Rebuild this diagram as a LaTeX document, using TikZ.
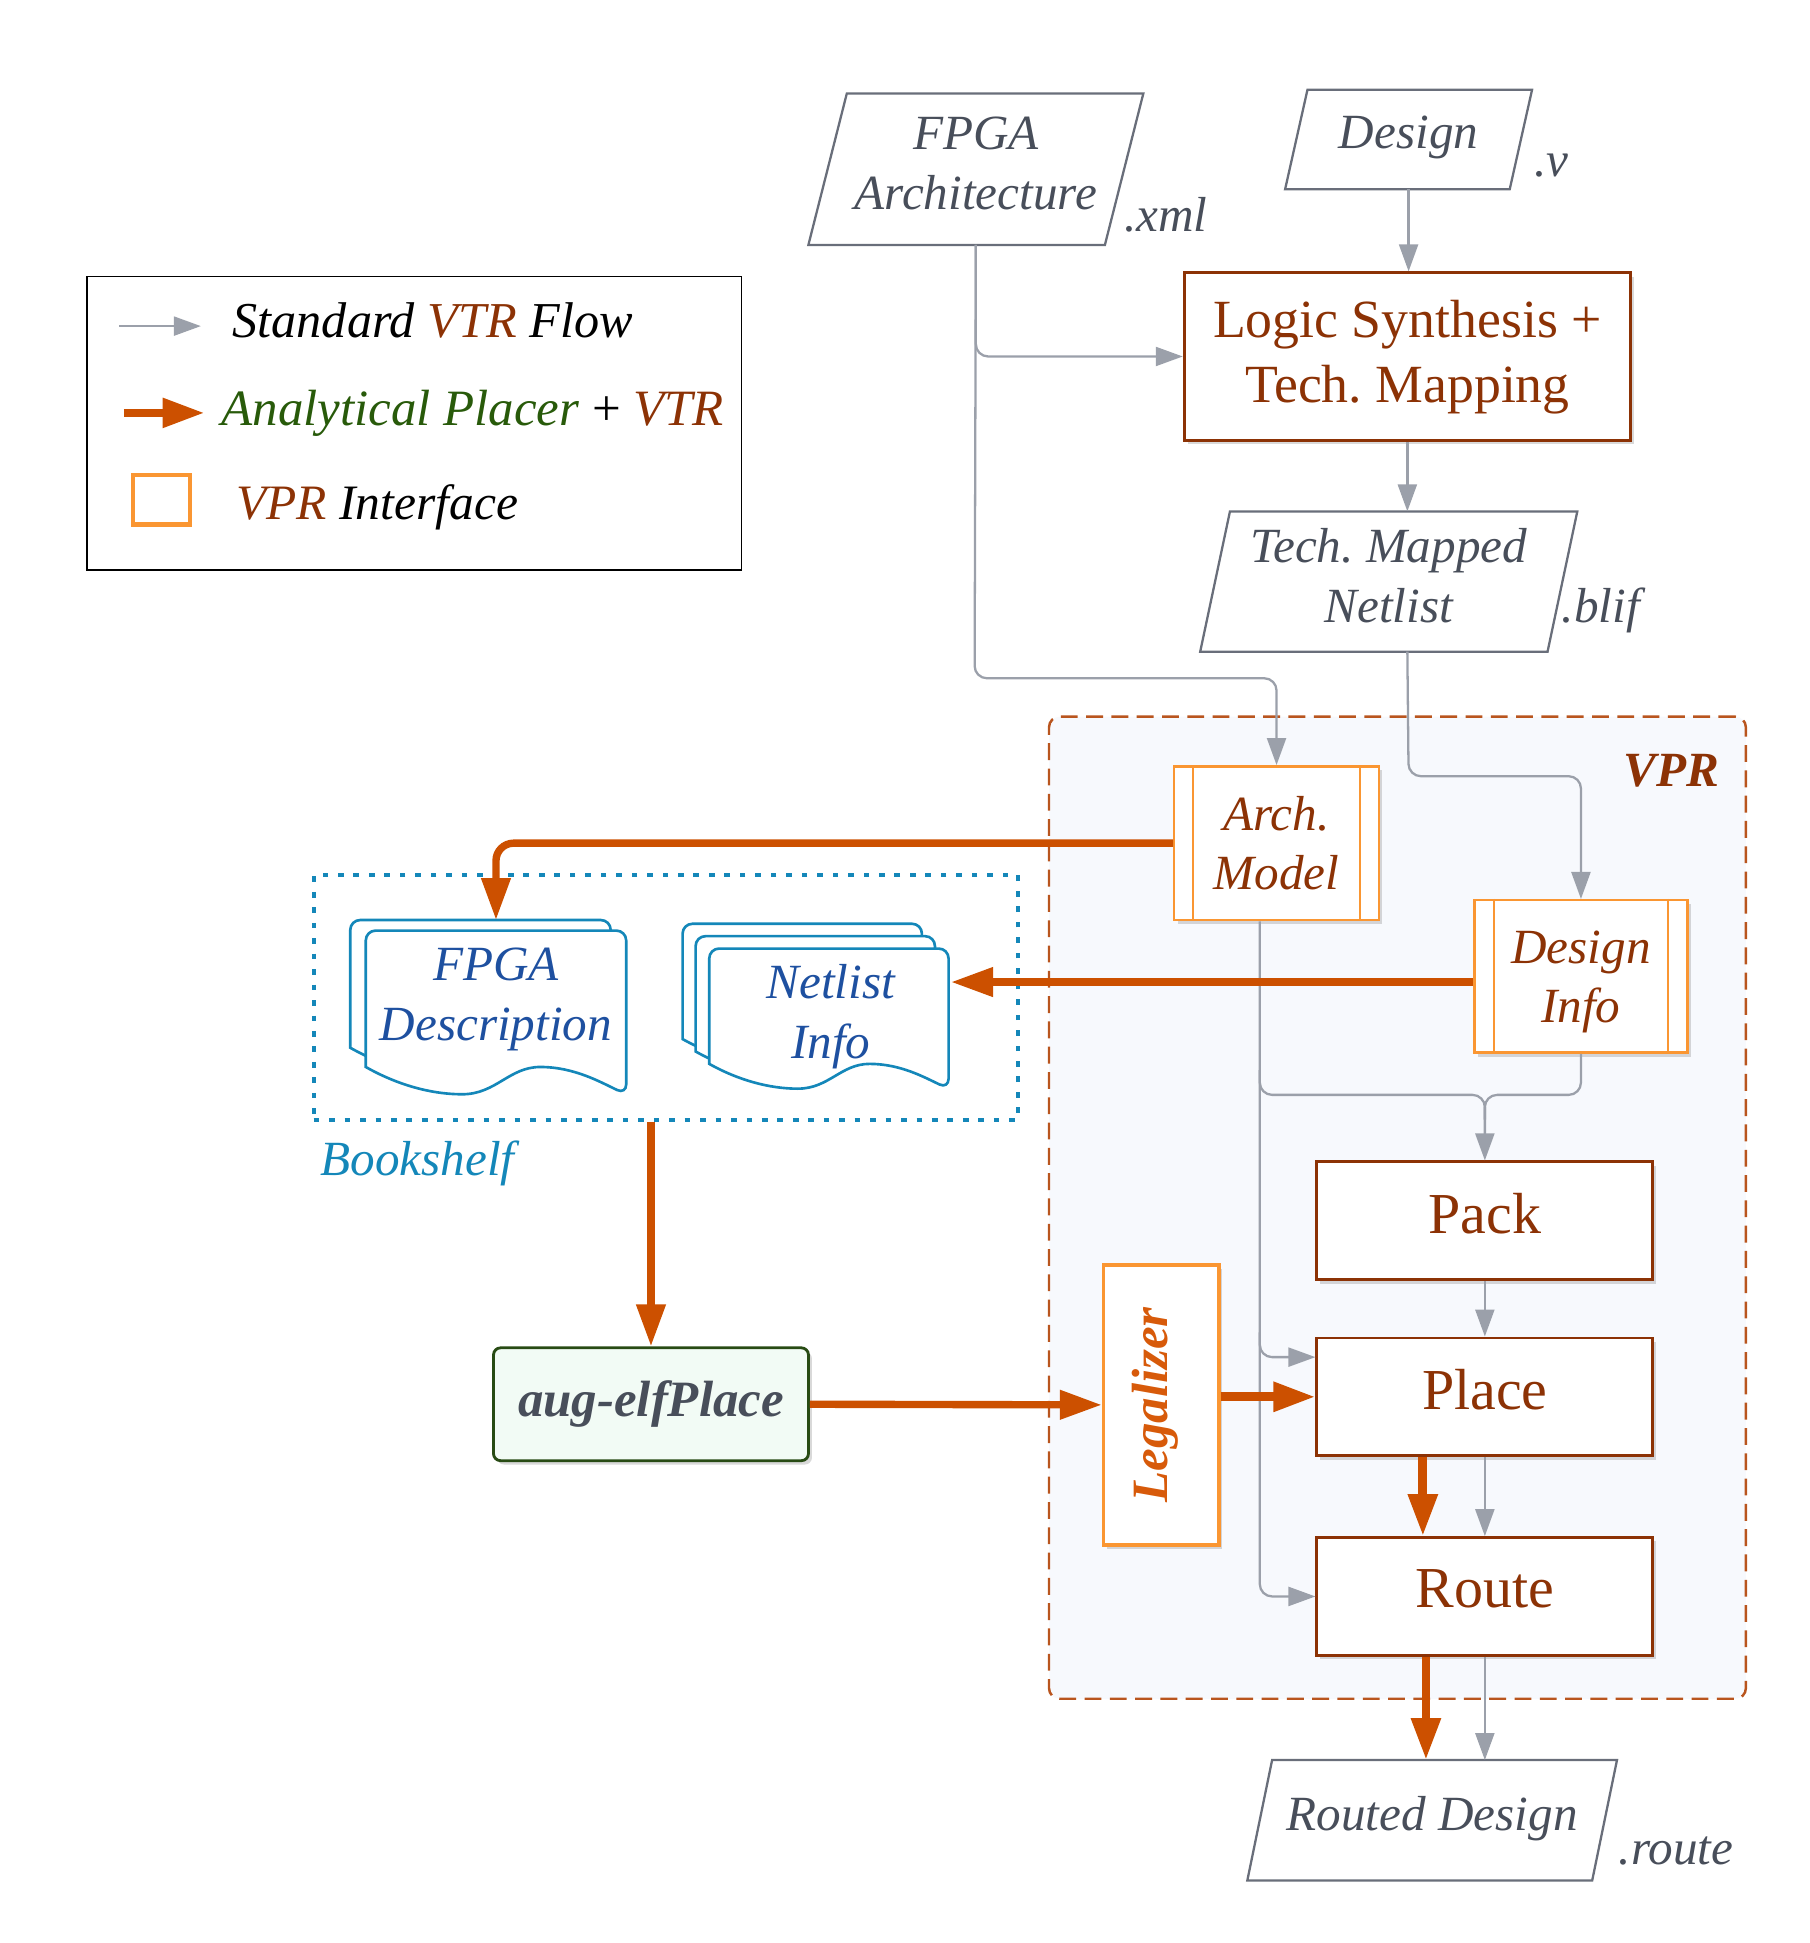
\documentclass[tikz,border=0pt]{standalone}
\usepackage{fontspec}
\setmainfont{Liberation Serif}
\usetikzlibrary{arrows.meta,calc,shadows}
\definecolor{brn}{RGB}{140,50,5}
\definecolor{org}{RGB}{204,80,0}
\definecolor{lorg}{RGB}{250,150,50}
\definecolor{gar}{RGB}{155,160,170}
\definecolor{pgray}{RGB}{105,110,122}
\definecolor{ptext}{RGB}{72,78,90}
\definecolor{dblue}{RGB}{30,80,160}
\definecolor{lblue}{RGB}{20,135,185}
\definecolor{grn}{RGB}{40,90,10}
\definecolor{dgrn}{RGB}{40,75,20}
\definecolor{gfill}{RGB}{242,251,245}
\definecolor{vfill}{RGB}{247,249,253}
\definecolor{vprd}{RGB}{185,85,30}
\definecolor{legor}{RGB}{215,90,10}
\def\U{0.0124cm}
\frenchspacing
\newcommand\fsi{\fontsize{14}{17}\selectfont\itshape}
\newcommand\paraout[2]{\draw[pgst] ($(#1.north west)+(#2,0)$) -- ($(#1.north east)+(#2,0)$) -- ($(#1.south east)+(-#2,0)$) -- ($(#1.south west)+(-#2,0)$) -- cycle;}
% x0, y0, w, hL, depth
\newcommand\docpage[5]{\draw[docst] (#1+#3,#2+#4+#5) .. controls (#1+0.9*#3,#2+#4+0.55*#5) and (#1+0.8*#3,#2+#4) .. (#1+0.67*#3,#2+#4) .. controls (#1+0.55*#3,#2+#4) and (#1+0.5*#3,#2+#4+#5) .. (#1+0.37*#3,#2+#4+#5) .. controls (#1+0.25*#3,#2+#4+#5) and (#1+0.12*#3,#2+#4+0.65*#5) .. (#1,#2+#4) [rounded corners=2.8pt] -- (#1,#2) -- (#1+#3,#2) -- cycle;}
\tikzset{
  pn/.style 2 args={inner sep=0pt, minimum width=#1*\U, minimum height=#2*\U},
  ptxt/.style={align=center, inner sep=0pt, text=ptext, font=\fsi},
  pgst/.style={draw=pgray, line width=0.65pt},
  ext/.style={anchor=base west, inner sep=0pt, text=ptext, font=\fsi},
  shad/.style={drop shadow={shadow xshift=1pt, shadow yshift=-1.1pt, opacity=0.3}},
  bbox/.style 2 args={draw=brn, line width=0.8pt, fill=white, shad, minimum width=#1*\U, minimum height=#2*\U, inner sep=0pt},
  obox/.style 2 args={draw=lorg, line width=0.7pt, fill=white, shad, minimum width=#1*\U, minimum height=#2*\U, inner sep=0pt},
  btxt/.style={align=center, inner sep=0pt, text=brn, font=\fontsize{16.5}{20}\selectfont},
  otxt/.style={align=center, inner sep=0pt, text=brn, font=\fsi},
  docst/.style={draw=lblue, line width=0.75pt, fill=white},
  doctext/.style={align=center, inner sep=0pt, text=dblue, font=\fsi},
  garrow/.style={draw=gar, line width=0.65pt, -{Triangle[length=0.27cm,width=0.19cm]}, rounded corners=3.5pt},
  gline/.style={draw=gar, line width=0.65pt, rounded corners=3.5pt},
  oarrow/.style={draw=org, line width=2.1pt, -{Triangle[length=0.42cm,width=0.28cm]}, rounded corners=5pt},
}
\begin{document}
\begin{tikzpicture}[x=0.0124cm,y=-0.0124cm]
\useasboundingbox (0,0) rectangle (1459,1567);

% VPR region
\node[draw=vprd, line width=0.7pt, dash pattern=on 4.8pt off 2.4pt, fill=vfill, rounded corners=3pt, minimum width=562*\U, minimum height=792*\U, inner sep=0pt] (vpr) at (1127,974) {};
\node[text=brn, font=\fontsize{14}{17}\selectfont\bfseries\itshape] (vprlab) at (1348,622) {VPR};

% Bookshelf
\node[draw=lblue, line width=1.1pt, dash pattern=on 1.6pt off 2.8pt, minimum width=568*\U, minimum height=197*\U, inner sep=0pt] (book) at (537,804.5) {};
\node[anchor=base west, inner sep=0pt, text=lblue, font=\fsi] (booklab) at (258,948) {Bookshelf};

% documents
\docpage{282.5}{742}{210}{103}{22}
\docpage{295}{750.5}{210}{110}{22}
\docpage{550.5}{745}{193}{93}{20}
\docpage{561}{755}{193}{93}{20}
\docpage{572}{765}{193}{93}{20}
\node[doctext] (fdesc) at (400,806) {FPGA\\Description};
\node[doctext] (ninfo) at (670,820) {Netlist\\Info};
\coordinate (fdtop) at (400,742);
\coordinate (ninr) at (767,792);

% legend
\node[draw=black, line width=0.55pt, minimum width=528*\U, minimum height=237*\U, inner sep=0pt] (legend) at (334,341.5) {};
\coordinate (l1a) at (96,263); \coordinate (l1b) at (162,263);
\coordinate (l2a) at (100,333); \coordinate (l2b) at (165,333);
\draw[garrow] (l1a) -- (l1b);
\draw[oarrow, line width=2.4pt] (l2a) -- (l2b);
\node[draw=lorg, line width=1.2pt, minimum width=46*\U, minimum height=40*\U, inner sep=0pt] (lsq) at (130,403) {};
\node[anchor=base west, inner sep=0pt, font=\fontsize{14.3}{17}\selectfont\itshape] (lt1) at (187,272) {Standard \textcolor{brn}{VTR} Flow};
\node[anchor=base west, inner sep=0pt, font=\fontsize{14.5}{17}\selectfont\itshape] (lt2) at (178,343.5) {\textcolor{grn}{Analytical Placer} {\upshape +} \textcolor{brn}{VTR}};
\node[anchor=base west, inner sep=0pt, font=\fontsize{14.1}{17}\selectfont\itshape] (lt3) at (190,419) {\textcolor{brn}{VPR} Interface};

% input parallelograms
\node[pn={238}{121}] (farch) at (787,136.5) {};
\paraout{farch}{15.5}
\node[ptxt] (farcht) at (787,132) {FPGA\\Architecture};
\node[ext] (xmlx) at (906,187) {.xml};
\node[pn={180}{79}] (design) at (1136,112.5) {};
\paraout{design}{9}
\node[ptxt] (designt) at (1136,111) {Design};
\node[ext] (vx) at (1237,142) {.v};
\node[pn={279}{112}] (tech) at (1120,469) {};
\paraout{tech}{12}
\node[ptxt] (techt) at (1120,464.5) {Tech. Mapped\\Netlist};
\node[ext] (blifx) at (1259,502) {.blif};
\node[pn={277}{96}] (routed) at (1155,1468) {};
\paraout{routed}{10}
\node[ptxt] (routedt) at (1155,1467) {Routed Design};
\node[ext] (routex) at (1305,1504) {.route};

% boxes
\node[bbox={360}{135}] (logic) at (1135,287.5) {};
\node[btxt, font=\fontsize{15.3}{18.3}\selectfont] (logict) at (1135,288) {Logic Synthesis +\\Tech. Mapping};
\node[obox={165}{124}] (arch) at (1029.5,680) {};
\draw[lorg, line width=0.6pt] ($(arch.north west)+(16,0)$) -- ($(arch.south west)+(16,0)$);
\draw[lorg, line width=0.6pt] ($(arch.north east)+(-16,0)$) -- ($(arch.south east)+(-16,0)$);
\node[otxt] (archt) at (1029.5,680) {Arch.\\Model};
\node[obox={172}{123}] (dinfo) at (1275,787.5) {};
\draw[lorg, line width=0.6pt] ($(dinfo.north west)+(17,0)$) -- ($(dinfo.south west)+(17,0)$);
\draw[lorg, line width=0.6pt] ($(dinfo.north east)+(-17,0)$) -- ($(dinfo.south east)+(-17,0)$);
\node[otxt] (dinfot) at (1275,792) {Design\\Info};
\node[bbox={271}{95}] (pack) at (1197.5,984.5) {};
\node[btxt] (packt) at (1197.5,978.5) {Pack};
\node[bbox={271}{95}] (place) at (1197.5,1126.5) {};
\node[btxt] (placet) at (1197.5,1120.5) {Place};
\node[bbox={271}{95}] (route) at (1197.5,1287.5) {};
\node[btxt] (routet) at (1197.5,1281.5) {Route};
\node[draw=lorg, line width=1pt, fill=white, shad, minimum width=93*\U, minimum height=226*\U, inner sep=0pt] (legal) at (936.5,1133) {};
\node[rotate=90, text=legor, font=\fontsize{14.5}{17}\selectfont\bfseries\itshape, inner sep=0pt] (legaltxt) at (932,1133) {Legalizer};
\node[draw=dgrn, line width=0.8pt, fill=gfill, rounded corners=2pt, shad, minimum width=254*\U, minimum height=91*\U, inner sep=0pt, text=ptext, font=\fontsize{14.5}{17}\selectfont\bfseries\itshape] (aug) at (525,1132.5) {aug-elfPlace};

% gray connectors
\coordinate (j1) at (786,547);
\draw[garrow] (farch.south) |- (logic.west);
\draw[garrow] (farch.south) -- (j1) -| (arch.north);
\draw[garrow] (design.south) -- (design.south |- logic.north);
\draw[garrow] (logic.south) -- (logic.south |- tech.north);
\coordinate (j2) at (1136,626);
\draw[garrow] (logic.south |- tech.south) -- (j2) -| (dinfo.north);
\coordinate (a1) at ($(arch.south)+(-13.5,0)$);
\draw[garrow] (a1) |- (route.west);
\coordinate (pw) at ($(place.west)+(0,-32)$);
\draw[garrow] ($(a1|-pw)+(0,-20)$) |- (pw);
\coordinate (m0) at (1200,883);
\coordinate (m) at (pack.north |- m0);
\draw[garrow] ($(a1|-m)+(0,-20)$) |- (m) -- (pack.north);
\draw[gline] (dinfo.south) |- (m) -- ($(m)+(0,20)$);
\draw[garrow] (pack.south) -- (place.north);
\draw[garrow] (place.south) -- (route.north);
\draw[garrow] (route.south) -- (route.south |- routed.north);

% orange connectors
\draw[oarrow] (arch.west) -| (fdtop);
\draw[oarrow] (dinfo.west |- ninr) -- (ninr);
\draw[oarrow] (aug.north |- book.south) -- (aug.north);
\draw[oarrow] (aug.east) -- (legal.west);
\draw[oarrow, line width=2.5pt] (legal.east |- place.west) -- (place.west);
\coordinate (p1) at ($(place.south)+(-50,0)$);
\draw[oarrow, line width=2.5pt] (p1) -- (p1 |- route.north);
\coordinate (r1) at ($(route.south)+(-47.5,0)$);
\draw[oarrow, line width=2.5pt] (r1) -- (r1 |- routed.north);
\end{tikzpicture}
\end{document}
